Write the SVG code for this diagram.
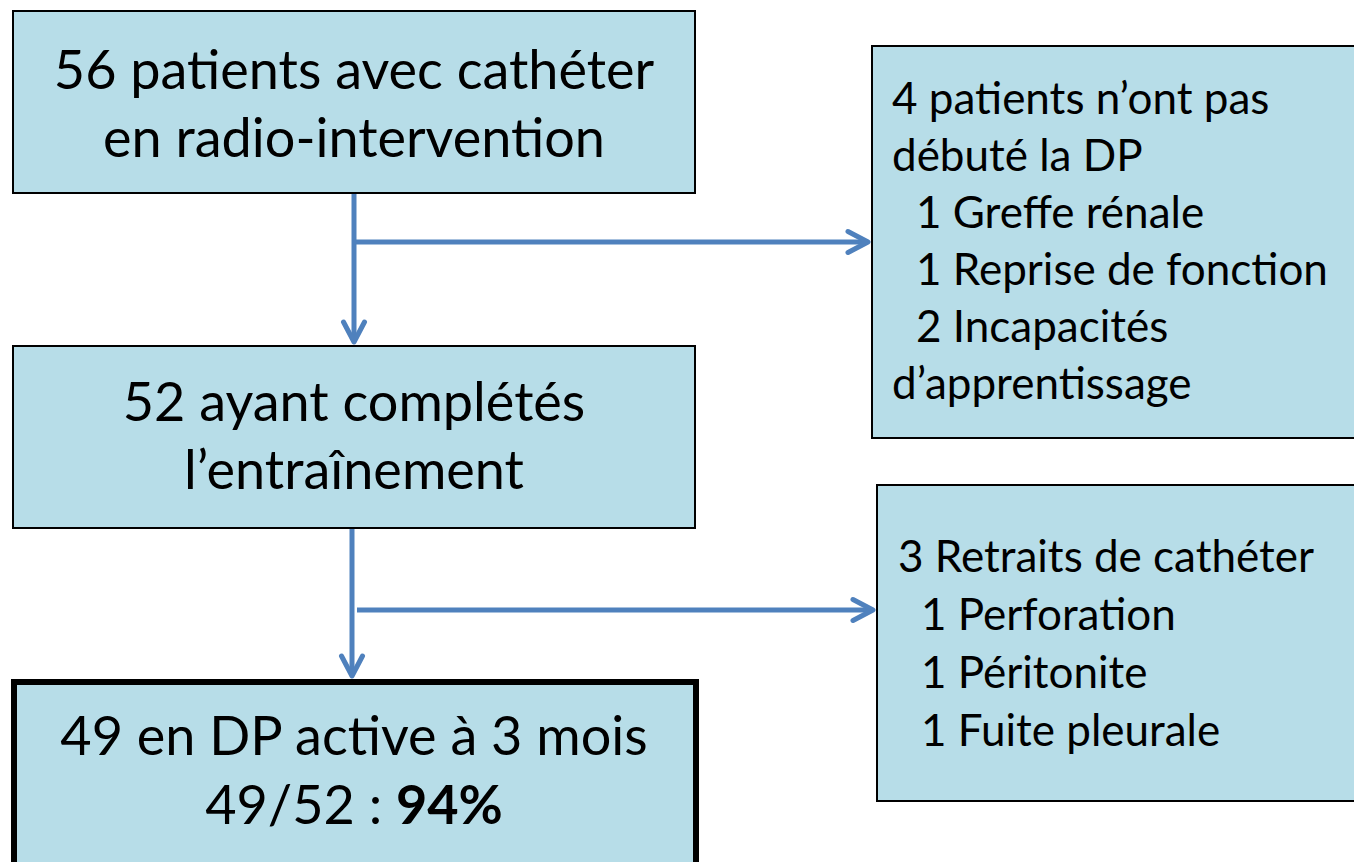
<svg xmlns="http://www.w3.org/2000/svg" width="1354" height="862" viewBox="0 0 1354 862">
<defs>
<style>
.box{fill:#B7DDE8;stroke:#000;stroke-width:2}
.thick{fill:#B7DDE8;stroke:#000;stroke-width:6}
.t{font-family:Lato,"Open Sans","Liberation Sans",sans-serif;fill:#000}
.big{font-size:54px;text-anchor:middle}
.side{font-size:44px}
.conn{fill:none;stroke:#4F81BD;stroke-width:5}
</style>
<marker id="arr" viewBox="-25 -14 28 28" refX="0" refY="0" markerWidth="28" markerHeight="28" markerUnits="userSpaceOnUse" orient="auto">
<path d="M-20,-10.5 L0,0 L-20,10.5" fill="none" stroke="#4F81BD" stroke-width="5" stroke-linecap="round" stroke-linejoin="round"/>
</marker>
</defs>
<rect width="1354" height="862" fill="#fff"/>
<g id="connectors">
<line class="conn" x1="354" y1="194" x2="354" y2="342" marker-end="url(#arr)"/>
<line class="conn" x1="354" y1="242" x2="868" y2="242" marker-end="url(#arr)"/>
<line class="conn" x1="352" y1="529" x2="352" y2="676" marker-end="url(#arr)"/>
<line class="conn" x1="357" y1="610" x2="873" y2="610" marker-end="url(#arr)"/>
</g>
<g id="n1">
<rect class="box" x="13" y="11" width="682" height="182"/>
<text class="t big" x="354" y="89">56 patients avec cathéter</text>
<text class="t big" x="354" y="157">en radio-intervention</text>
</g>
<g id="n2">
<rect class="box" x="13" y="346" width="682" height="182"/>
<text class="t big" x="354" y="421">52 ayant complétés</text>
<text class="t big" x="354" y="489">l’entraînement</text>
</g>
<g id="n3">
<rect class="thick" x="14" y="682" width="682" height="186"/>
<text class="t big" x="354" y="755">49 en DP active à 3 mois</text>
<text class="t big" x="354" y="824">49/52 : <tspan font-weight="bold">94%</tspan></text>
</g>
<g id="n4">
<rect class="box" x="872" y="46" width="490" height="392"/>
<text class="t side" x="892" y="114">4 patients n’ont pas</text>
<text class="t side" x="892" y="171">débuté la DP</text>
<text class="t side" x="916" y="228">1 Greffe rénale</text>
<text class="t side" x="916" y="285">1 Reprise de fonction</text>
<text class="t side" x="916" y="342">2 Incapacités</text>
<text class="t side" x="892" y="399">d’apprentissage</text>
</g>
<g id="n5">
<rect class="box" x="877" y="485" width="485" height="316"/>
<text class="t side" x="898" y="572">3 Retraits de cathéter</text>
<text class="t side" x="921" y="630">1 Perforation</text>
<text class="t side" x="921" y="688">1 Péritonite</text>
<text class="t side" x="921" y="746">1 Fuite pleurale</text>
</g>
</svg>
